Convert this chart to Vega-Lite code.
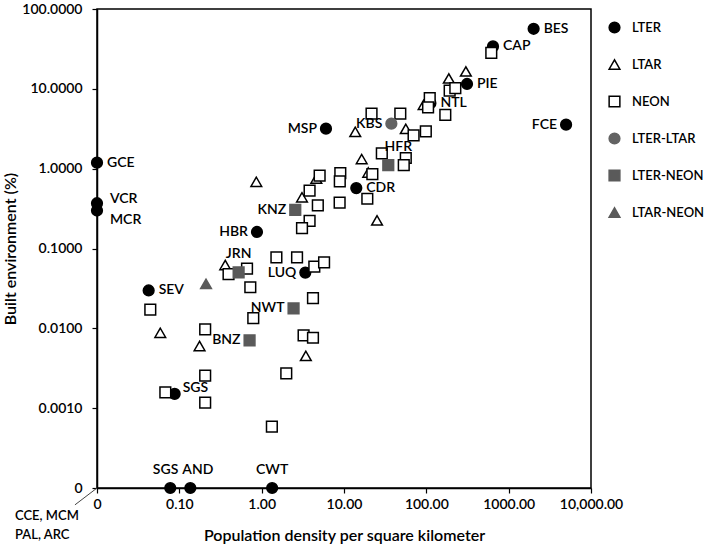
{
  "$schema": "https://vega.github.io/schema/vega-lite/v6.json",
  "width": 494,
  "height": 479,
  "autosize": {"type": "none"},
  "padding": {"left": 97, "top": 9, "right": 118, "bottom": 58},
  "background": "white",
  "config": {
    "font": "Lato",
    "view": {"stroke": "black", "strokeWidth": 1.5},
    "axis": {
      "grid": false,
      "domainColor": "black",
      "domainWidth": 1.5,
      "tickColor": "black",
      "tickWidth": 1.2,
      "tickSize": 5,
      "labelFont": "Lato",
      "labelFontSize": 14,
      "labelFontWeight": 600,
      "labelColor": "black",
      "titleFont": "Lato",
      "titleFontSize": 16,
      "titleFontWeight": 600,
      "titleColor": "black"
    },
    "legend": {
      "orient": "none",
      "legendX": 511,
      "legendY": 12,
      "rowPadding": 20,
      "labelOffset": 11,
      "symbolSize": 115,
      "symbolStrokeWidth": 1.5,
      "labelFont": "Lato",
      "labelFontSize": 13,
      "labelFontWeight": 600,
      "labelColor": "black",
      "padding": 0
    }
  },
  "datasets": {
    "sites": [
      {"label": "BES", "type": "LTER", "density": 2010, "built": 56.5},
      {"label": "CAP", "type": "LTER", "density": 645, "built": 34.0},
      {"label": "PIE", "type": "LTER", "density": 312, "built": 11.5},
      {"label": "FCE", "type": "LTER", "density": 4980, "built": 3.56},
      {"label": "NTL", "type": "LTER", "density": 112, "built": 6.62},
      {"label": "MSP", "type": "LTER", "density": 6.04, "built": 3.17},
      {"label": "CDR", "type": "LTER", "density": 14.1, "built": 0.571},
      {"label": "GCE", "type": "LTER", "density": 0.01, "built": 1.19},
      {"label": "VCR", "type": "LTER", "density": 0.01, "built": 0.369},
      {"label": "MCR", "type": "LTER", "density": 0.01, "built": 0.299},
      {"label": "HBR", "type": "LTER", "density": 0.877, "built": 0.161},
      {"label": "LUQ", "type": "LTER", "density": 3.39, "built": 0.0499},
      {"label": "SEV", "type": "LTER", "density": 0.0424, "built": 0.0298},
      {"label": "SGS", "type": "LTER", "density": 0.0877, "built": 0.00151},
      {"label": "SGS", "type": "LTER", "density": 0.0776, "built": 0.0001},
      {"label": "AND", "type": "LTER", "density": 0.136, "built": 0.0001},
      {"label": "CWT", "type": "LTER", "density": 1.34, "built": 0.0001},
      {"label": "", "type": "LTAR", "density": 302, "built": 16.5},
      {"label": "", "type": "LTAR", "density": 187.5, "built": 13.5},
      {"label": "", "type": "LTAR", "density": 92.7, "built": 6.3},
      {"label": "", "type": "LTAR", "density": 13.7, "built": 2.89},
      {"label": "", "type": "LTAR", "density": 56.3, "built": 3.15},
      {"label": "", "type": "LTAR", "density": 16.4, "built": 1.32},
      {"label": "", "type": "LTAR", "density": 19.7, "built": 0.895},
      {"label": "", "type": "LTAR", "density": 25.2, "built": 0.225},
      {"label": "", "type": "LTAR", "density": 0.861, "built": 0.685},
      {"label": "", "type": "LTAR", "density": 3.09, "built": 0.438},
      {"label": "", "type": "LTAR", "density": 4.61, "built": 0.753},
      {"label": "", "type": "LTAR", "density": 0.361, "built": 0.0621},
      {"label": "", "type": "LTAR", "density": 0.0587, "built": 0.00879},
      {"label": "", "type": "LTAR", "density": 0.176, "built": 0.00601},
      {"label": "", "type": "LTAR", "density": 3.44, "built": 0.00452},
      {"label": "", "type": "NEON", "density": 615, "built": 28.2},
      {"label": "", "type": "NEON", "density": 192, "built": 9.51},
      {"label": "", "type": "NEON", "density": 225, "built": 10.2},
      {"label": "", "type": "NEON", "density": 110, "built": 7.63},
      {"label": "", "type": "NEON", "density": 105, "built": 5.85},
      {"label": "", "type": "NEON", "density": 170, "built": 4.73},
      {"label": "", "type": "NEON", "density": 21.6, "built": 4.9},
      {"label": "", "type": "NEON", "density": 48.3, "built": 4.9},
      {"label": "", "type": "NEON", "density": 70.0, "built": 2.61},
      {"label": "", "type": "NEON", "density": 98.6, "built": 2.94},
      {"label": "", "type": "NEON", "density": 28.8, "built": 1.55},
      {"label": "", "type": "NEON", "density": 56.3, "built": 1.36},
      {"label": "", "type": "NEON", "density": 53.2, "built": 1.11},
      {"label": "", "type": "NEON", "density": 22.1, "built": 0.857},
      {"label": "", "type": "NEON", "density": 19.2, "built": 0.42},
      {"label": "", "type": "NEON", "density": 9.02, "built": 0.881},
      {"label": "", "type": "NEON", "density": 8.89, "built": 0.692},
      {"label": "", "type": "NEON", "density": 8.85, "built": 0.376},
      {"label": "", "type": "NEON", "density": 5.06, "built": 0.82},
      {"label": "", "type": "NEON", "density": 3.82, "built": 0.53},
      {"label": "", "type": "NEON", "density": 4.81, "built": 0.348},
      {"label": "", "type": "NEON", "density": 3.82, "built": 0.222},
      {"label": "", "type": "NEON", "density": 3.09, "built": 0.18},
      {"label": "", "type": "NEON", "density": 1.51, "built": 0.0776},
      {"label": "", "type": "NEON", "density": 2.69, "built": 0.0776},
      {"label": "", "type": "NEON", "density": 4.36, "built": 0.0592},
      {"label": "", "type": "NEON", "density": 5.73, "built": 0.067},
      {"label": "", "type": "NEON", "density": 0.664, "built": 0.0558},
      {"label": "", "type": "NEON", "density": 0.396, "built": 0.0477},
      {"label": "", "type": "NEON", "density": 0.728, "built": 0.0327},
      {"label": "", "type": "NEON", "density": 4.2, "built": 0.0239},
      {"label": "", "type": "NEON", "density": 0.791, "built": 0.0134},
      {"label": "", "type": "NEON", "density": 3.23, "built": 0.00818},
      {"label": "", "type": "NEON", "density": 4.2, "built": 0.00762},
      {"label": "", "type": "NEON", "density": 0.0444, "built": 0.0172},
      {"label": "", "type": "NEON", "density": 0.206, "built": 0.00968},
      {"label": "", "type": "NEON", "density": 0.206, "built": 0.00255},
      {"label": "", "type": "NEON", "density": 0.0676, "built": 0.00158},
      {"label": "", "type": "NEON", "density": 0.206, "built": 0.00117},
      {"label": "", "type": "NEON", "density": 1.99, "built": 0.00272},
      {"label": "", "type": "NEON", "density": 1.33, "built": 0.000589},
      {"label": "KBS", "type": "LTER-LTAR", "density": 37.6, "built": 3.66},
      {"label": "HFR", "type": "LTER-NEON", "density": 34.5, "built": 1.11},
      {"label": "KNZ", "type": "LTER-NEON", "density": 2.56, "built": 0.305},
      {"label": "JRN", "type": "LTER-NEON", "density": 0.525, "built": 0.0503},
      {"label": "NWT", "type": "LTER-NEON", "density": 2.44, "built": 0.0178},
      {"label": "BNZ", "type": "LTER-NEON", "density": 0.713, "built": 0.00708},
      {"label": "", "type": "LTAR-NEON", "density": 0.211, "built": 0.0361}
    ],
    "note": [
      {"density": 0.01, "built": 0.0001, "density2": 0.0054, "built2": 0.0000615, "text": "CCE, MCM\nPAL, ARC"}
    ]
  },
  "encoding": {
    "x": {
      "field": "density",
      "type": "quantitative",
      "scale": {"type": "log", "domain": [0.01, 10000], "nice": false},
      "axis": {
        "title": "Population density per square kilometer",
        "values": [0.01, 0.1, 1, 10, 100, 1000, 10000],
        "labelExpr": "datum.value < 0.011 ? '0' : datum.value > 9999 ? '10,000.00' : format(datum.value, '.2f')",
        "labelPadding": 4,
        "titlePadding": 16,
        "labelFlush": false
      }
    },
    "y": {
      "field": "built",
      "type": "quantitative",
      "scale": {"type": "log", "domain": [0.0001, 100], "nice": false},
      "axis": {
        "title": "Built environment (%)",
        "values": [0.0001, 0.001, 0.01, 0.1, 1, 10, 100],
        "labelExpr": "datum.value < 0.00011 ? '0' : format(datum.value, '.4f')",
        "labelPadding": 10,
        "titlePadding": 3,
        "labelFlush": false
      }
    }
  },
  "layer": [
    {
      "data": {"name": "note"},
      "mark": {"type": "rule", "color": "#444", "strokeWidth": 1},
      "encoding": {
        "x2": {"field": "density2"},
        "y2": {"field": "built2"}
      }
    },
    {
      "data": {"name": "note"},
      "mark": {"type": "text", "align": "left", "baseline": "top", "dx": -82, "dy": 22, "fontSize": 13, "fontWeight": 600, "lineHeight": 19, "lineBreak": "\n", "color": "black"},
      "encoding": {"text": {"field": "text"}}
    },
    {
      "data": {"name": "sites"},
      "mark": {"type": "point", "strokeWidth": 1.5, "size": 115, "opacity": 1},
      "encoding": {
        "shape": {
          "field": "type", "type": "nominal", "title": null,
          "scale": {"domain": ["LTER", "LTAR", "NEON", "LTER-LTAR", "LTER-NEON", "LTAR-NEON"],
                    "range": ["circle", "triangle-up", "square", "circle", "square", "triangle-up"]}
        },
        "fill": {
          "field": "type", "type": "nominal", "title": null,
          "scale": {"domain": ["LTER", "LTAR", "NEON", "LTER-LTAR", "LTER-NEON", "LTAR-NEON"],
                    "range": ["black", "white", "white", "#636363", "#5a5a5a", "#5a5a5a"]}
        },
        "stroke": {
          "field": "type", "type": "nominal", "title": null,
          "scale": {"domain": ["LTER", "LTAR", "NEON", "LTER-LTAR", "LTER-NEON", "LTAR-NEON"],
                    "range": ["black", "black", "black", "#636363", "#5a5a5a", "#5a5a5a"]}
        }
      }
    },
    {
      "data": {"name": "sites"},
      "transform": [{"filter": {"field": "label", "oneOf": ["BES", "CAP", "PIE", "NTL", "CDR", "GCE", "SEV"]}}],
      "mark": {"type": "text", "align": "left", "baseline": "middle", "dx": 10, "fontSize": 14, "fontWeight": 600, "color": "black"},
      "encoding": {"text": {"field": "label"}}
    },
    {
      "data": {"name": "sites"},
      "transform": [{"filter": {"field": "label", "oneOf": ["MSP", "FCE", "KNZ", "HBR", "LUQ", "NWT", "BNZ", "KBS"]}}],
      "mark": {"type": "text", "align": "right", "baseline": "middle", "dx": -9, "fontSize": 14, "fontWeight": 600, "color": "black"},
      "encoding": {"text": {"field": "label"}}
    },
    {
      "data": {"name": "sites"},
      "transform": [{"filter": {"field": "label", "oneOf": ["JRN", "CWT"]}}],
      "mark": {"type": "text", "align": "center", "baseline": "middle", "dy": -18, "fontSize": 14, "fontWeight": 600, "color": "black"},
      "encoding": {"text": {"field": "label"}}
    },
    {
      "data": {"name": "sites"},
      "transform": [{"filter": {"field": "label", "equal": "HFR"}}],
      "mark": {"type": "text", "align": "center", "baseline": "middle", "dx": 10, "dy": -18, "fontSize": 14, "fontWeight": 600, "color": "black"},
      "encoding": {"text": {"field": "label"}}
    },
    {
      "data": {"name": "sites"},
      "transform": [{"filter": {"field": "label", "equal": "VCR"}}],
      "mark": {"type": "text", "align": "left", "baseline": "middle", "dx": 13, "dy": -4, "fontSize": 14, "fontWeight": 600, "color": "black"},
      "encoding": {"text": {"field": "label"}}
    },
    {
      "data": {"name": "sites"},
      "transform": [{"filter": {"field": "label", "equal": "MCR"}}],
      "mark": {"type": "text", "align": "left", "baseline": "middle", "dx": 13, "dy": 9, "fontSize": 14, "fontWeight": 600, "color": "black"},
      "encoding": {"text": {"field": "label"}}
    },
    {
      "data": {"name": "sites"},
      "transform": [{"filter": "datum.label == 'SGS' && datum.built > 0.001"}],
      "mark": {"type": "text", "align": "left", "baseline": "middle", "dx": 8, "dy": -6, "fontSize": 14, "fontWeight": 600, "color": "black"},
      "encoding": {"text": {"field": "label"}}
    },
    {
      "data": {"name": "sites"},
      "transform": [{"filter": "datum.label == 'SGS' && datum.built < 0.001"}],
      "mark": {"type": "text", "align": "right", "baseline": "middle", "dx": 8, "dy": -18, "fontSize": 14, "fontWeight": 600, "color": "black"},
      "encoding": {"text": {"field": "label"}}
    },
    {
      "data": {"name": "sites"},
      "transform": [{"filter": {"field": "label", "equal": "AND"}}],
      "mark": {"type": "text", "align": "left", "baseline": "middle", "dx": -8, "dy": -18, "fontSize": 14, "fontWeight": 600, "color": "black"},
      "encoding": {"text": {"field": "label"}}
    }
  ]
}
